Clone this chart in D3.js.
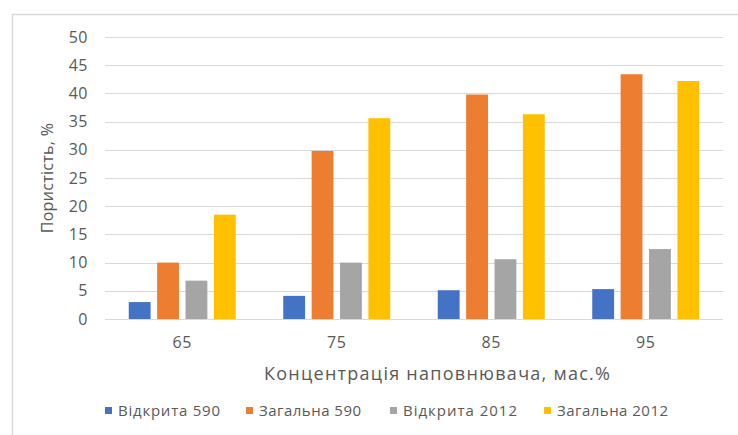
<!DOCTYPE html>
<html>
<head>
<meta charset="utf-8">
<script src="https://cdn.jsdelivr.net/npm/d3@7"></script>
<style>
  body { margin: 0; background: #fff; }
  text { font-family: "Open Sans", "Noto Sans", sans-serif; fill: #595959; }
</style>
</head>
<body>
<svg id="chart" width="738" height="435"></svg>
<script>
const categories = ["65", "75", "85", "95"];
const seriesNames = ["Відкрита 590", "Загальна 590", "Відкрита 2012", "Загальна 2012"];
const open590 = [3, 4.1, 5.1, 5.3];
const total590 = [10, 29.8, 39.8, 43.4];
const open2012 = [6.8, 10, 10.6, 12.4];
const total2012 = [18.5, 35.6, 36.3, 42.2];
const yTicks = [0, 5, 10, 15, 20, 25, 30, 35, 40, 45, 50];
const colours = ["#4472C4", "#ED7D31", "#A5A5A5", "#FFC000"];

const series = [open590, total590, open2012, total2012];

const svg = d3.select("#chart");

// chart frame
svg.append("path")
    .attr("d", "M12.5,440 L12.5,14.5 L745,14.5")
    .attr("fill", "none")
    .attr("stroke", "#d9d9d9")
    .attr("stroke-width", 1.5);

const plot = { left: 105, right: 723, top: 37, bottom: 319 };

const x = d3.scaleBand()
    .domain(categories)
    .range([plot.left, plot.right]);

const xInner = d3.scaleBand()
    .domain(d3.range(series.length))
    .range([0, 107])
    .paddingInner(0.23);

const y = d3.scaleLinear()
    .domain([0, 50])
    .range([plot.bottom, plot.top]);

// gridlines
svg.append("g")
    .selectAll("line")
    .data(yTicks)
    .join("line")
    .attr("x1", plot.left)
    .attr("x2", plot.right)
    .attr("y1", d => Math.round(y(d)) + 0.5)
    .attr("y2", d => Math.round(y(d)) + 0.5)
    .attr("stroke", "#d9d9d9")
    .attr("stroke-width", 1);

// y axis labels
const yAxis = svg.append("g")
    .attr("transform", `translate(${plot.left - 10},0)`)
    .call(d3.axisLeft(y).tickValues(yTicks).tickSize(0).tickPadding(7));
yAxis.select(".domain").remove();
yAxis.selectAll("text")
    .style("font-size", "16px")
    .style("font-family", "'Open Sans', sans-serif")
    .style("letter-spacing", "0.5px")
    .attr("fill", "#595959");

// x axis labels
const xAxis = svg.append("g")
    .attr("transform", `translate(0,${plot.bottom})`)
    .call(d3.axisBottom(x).tickSize(0).tickPadding(18));
xAxis.select(".domain").remove();
xAxis.selectAll("text")
    .style("font-size", "16px")
    .style("font-family", "'Open Sans', sans-serif")
    .style("letter-spacing", "0.5px")
    .attr("fill", "#595959");

// bars
const groups = svg.append("g")
    .selectAll("g")
    .data(categories)
    .join("g")
    .attr("transform", d => `translate(${x(d) + x.bandwidth() / 2 - 53.5},0)`);

groups.selectAll("rect")
    .data((d, i) => series.map((s, k) => ({ k, v: s[i] })))
    .join("rect")
    .attr("x", d => xInner(d.k))
    .attr("width", xInner.bandwidth())
    .attr("y", d => y(d.v))
    .attr("height", d => y(0) - y(d.v))
    .attr("fill", d => colours[d.k]);

// axis titles
svg.append("text")
    .attr("x", 264)
    .attr("y", 380)
    .attr("textLength", 346)
    .attr("lengthAdjust", "spacing")
    .style("font-size", "18px")
    .text("Концентрація наповнювача, мас.%");

svg.append("text")
    .attr("transform", `translate(53,178) rotate(-90)`)
    .attr("text-anchor", "middle")
    .style("font-size", "16px")
    .style("letter-spacing", "0.3px")
    .text("Пористість, %");

// legend
const legendX = [105, 246, 390, 544];
const legendW = [102, 102, 114, 111];
const legend = svg.append("g")
    .selectAll("g")
    .data(seriesNames)
    .join("g")
    .attr("transform", (d, i) => `translate(${legendX[i]},411)`);

legend.append("rect")
    .attr("x", 0)
    .attr("y", -4)
    .attr("width", 7)
    .attr("height", 7)
    .attr("fill", (d, i) => colours[i]);

legend.append("text")
    .attr("x", 13)
    .attr("y", 5)
    .attr("textLength", (d, i) => legendW[i])
    .attr("lengthAdjust", "spacing")
    .style("font-size", "15px")
    .text(d => d);
</script>
</body>
</html>
